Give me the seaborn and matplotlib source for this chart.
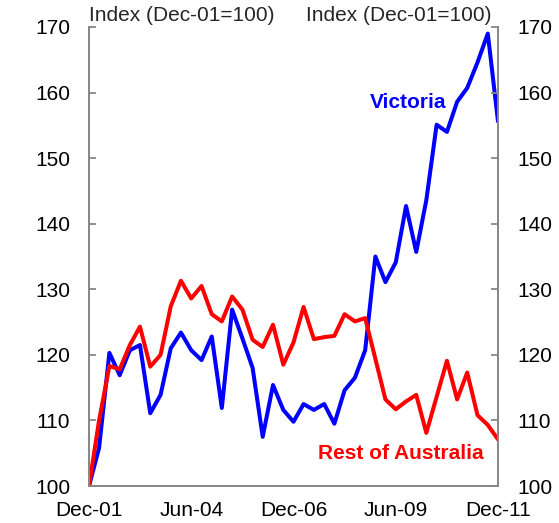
import pandas as pd
import matplotlib
matplotlib.use('Agg')
import matplotlib.pyplot as plt
import seaborn as sns

# Quarterly index values, Dec-01 = 100
victoria = [100.0, 105.8, 120.3, 116.9, 120.7, 121.5, 111.1, 113.9, 121.0, 123.4,
            120.7, 119.2, 122.8, 111.9, 126.9, 122.5, 118.0, 107.5, 115.4, 111.6,
            109.8, 112.5, 111.6, 112.5, 109.5, 114.6, 116.5, 120.7, 135.0, 131.1,
            134.1, 142.7, 135.7, 143.6, 155.1, 154.0, 158.6, 160.7, 164.6, 169.0,
            155.6]
rest_of_aus = [100.0, 110.0, 118.3, 117.8, 121.5, 124.3, 118.2, 120.0, 127.4, 131.3,
               128.6, 130.5, 126.2, 125.1, 128.9, 126.9, 122.3, 121.2, 124.6, 118.5,
               121.9, 127.3, 122.4, 122.7, 122.9, 126.2, 125.1, 125.6, 119.4, 113.2,
               111.7, 112.9, 113.9, 108.1, 113.6, 119.1, 113.2, 117.3, 110.8, 109.3,
               107.1]
dates = pd.date_range('2001-12-01', periods=len(victoria), freq='3MS')

tick_dates = ['2001-12-01', '2004-06-01', '2006-12-01', '2009-06-01', '2011-12-01']
tick_labels = ['Dec-01', 'Jun-04', 'Dec-06', 'Jun-09', 'Dec-11']
y_ticks = [100, 110, 120, 130, 140, 150, 160, 170]

df = pd.DataFrame({'date': dates, 'Victoria': victoria, 'Rest of Australia': rest_of_aus})

sns.set_style('white')
plt.rcParams['font.family'] = ['Liberation Sans', 'DejaVu Sans']

fs = 15
fig = plt.figure(figsize=(5.59, 5.23), dpi=100)
ax = fig.add_axes([89 / 559, 1 - 486 / 523, 409 / 559, 459 / 523])

sns.lineplot(data=df, x='date', y='Victoria', color='#0000FF', linewidth=2.9, ax=ax)
sns.lineplot(data=df, x='date', y='Rest of Australia', color='#FF0000', linewidth=2.9, ax=ax)

spine_col = '#878787'
ax.set_xlim(dates[0], dates[-1])
ax.set_ylim(100, 170)
ax.set_yticks(y_ticks)
ax.set_xticks(pd.to_datetime(tick_dates))
ax.set_xticklabels(tick_labels)
ax.set_xlabel('')
ax.set_ylabel('')
for s in ['left', 'right', 'bottom']:
    ax.spines[s].set_color(spine_col)
    ax.spines[s].set_linewidth(1.3)
ax.spines['top'].set_visible(False)
ax.tick_params(axis='both', direction='in', length=5, width=1.3, color=spine_col,
               labelsize=fs, labelcolor='black')
ax.tick_params(axis='x', pad=11)
ax.tick_params(axis='y', pad=13.5)

ax2 = ax.twinx()
ax2.set_ylim(100, 170)
ax2.set_yticks(y_ticks)
for s in ['left', 'right', 'bottom']:
    ax2.spines[s].set_color(spine_col)
    ax2.spines[s].set_linewidth(1.3)
ax2.spines['top'].set_visible(False)
ax2.tick_params(axis='y', direction='in', length=5, width=1.3, color=spine_col,
                labelsize=fs, labelcolor='black', pad=14)

ax.text(0.0, 1.005, 'Index (Dec-01=100)', transform=ax.transAxes, ha='left', va='bottom', fontsize=fs)
ax.text(0.985, 1.005, 'Index (Dec-01=100)', transform=ax.transAxes, ha='right', va='bottom', fontsize=fs)

ax.text(pd.Timestamp('2009-09-15'), 158.5, 'Victoria', color='#0000FF', fontweight='bold',
        fontsize=fs, ha='center', va='center')
ax.text(pd.Timestamp('2009-07-15'), 104.9, 'Rest of Australia', color='#FF0000', fontweight='bold',
        fontsize=fs, ha='center', va='center')

fig.savefig('out.png', dpi=100)
